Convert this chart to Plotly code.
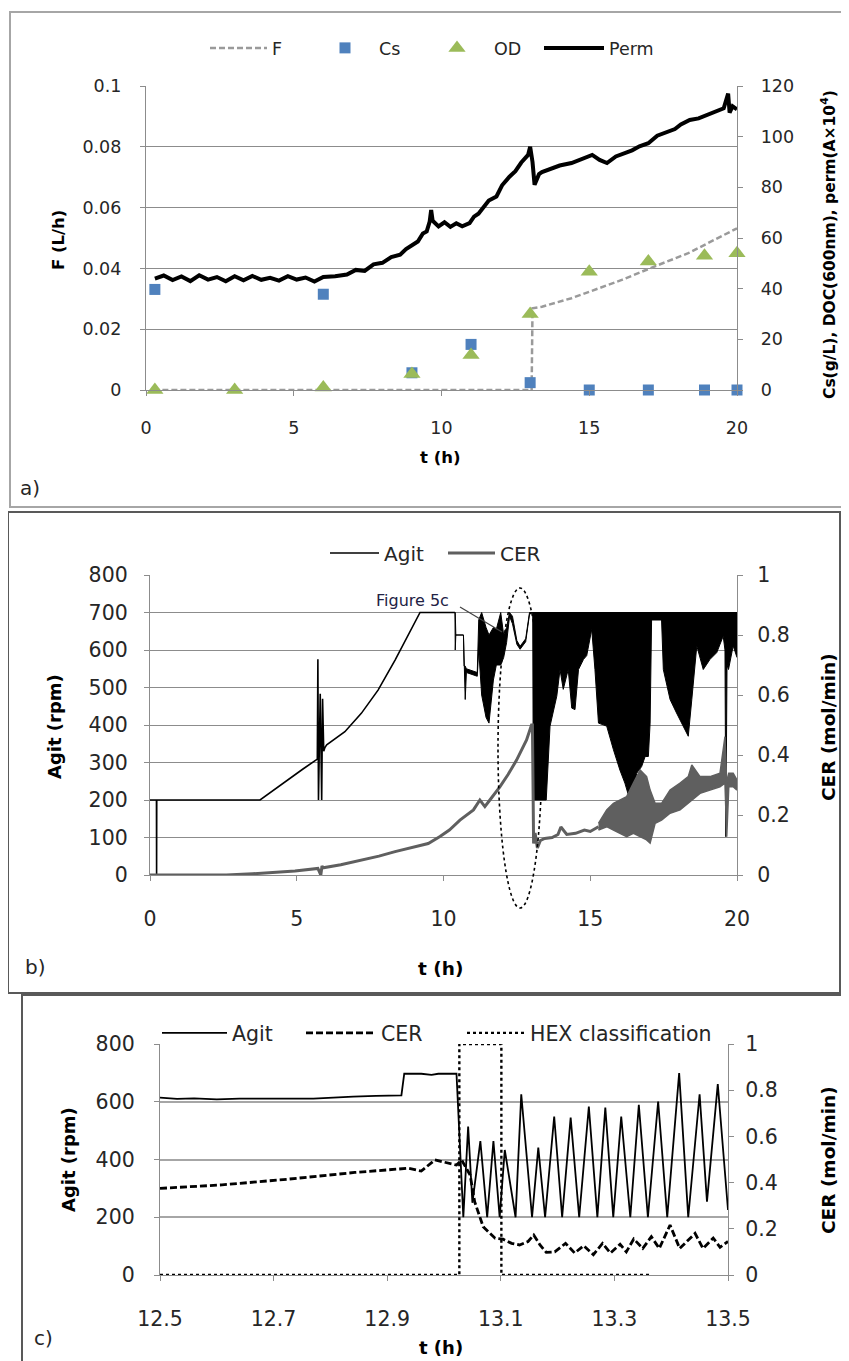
import plotly.graph_objects as go

# ---------------- panel a) feed, substrate, OD and permittivity ----------------
perm_t = [0.3, 0.6, 0.9, 1.2, 1.5, 1.8, 2.1, 2.4, 2.7, 3.0, 3.3, 3.6, 3.9, 4.2, 4.5, 4.8,
          5.1, 5.4, 5.7, 6.0, 6.4, 6.8, 7.1, 7.4, 7.7, 8.0, 8.3, 8.6, 8.8, 9.0, 9.2, 9.37,
          9.5, 9.6, 9.65, 9.7, 9.9, 10.1, 10.3, 10.5, 10.7, 10.95, 11.1, 11.25, 11.4, 11.6,
          11.86, 12.05, 12.3, 12.5, 12.7, 12.93, 13.0, 13.08, 13.15, 13.3, 13.4, 13.7, 14.0,
          14.4, 14.7, 15.1, 15.35, 15.6, 15.9, 16.2, 16.45, 16.7, 17.0, 17.3, 17.6, 17.9,
          18.1, 18.4, 18.7, 19.0, 19.3, 19.55, 19.7, 19.75, 19.85, 20.0]
perm_v = [44.0, 45.2, 43.4, 44.8, 43.0, 45.3, 43.6, 44.6, 42.9, 44.9, 43.3, 45.0, 43.5, 44.3,
          43.2, 44.9, 43.6, 44.4, 42.8, 44.6, 44.9, 45.6, 47.4, 47.0, 49.6, 50.2, 52.5, 53.4,
          55.6, 57.2, 58.6, 61.8, 62.6, 66.5, 71.0, 66.8, 64.6, 66.2, 64.4, 65.8, 64.6, 65.9,
          68.4, 69.6, 71.8, 74.8, 76.4, 80.8, 84.2, 86.4, 89.8, 92.8, 96.0, 90.0, 81.0, 85.2,
          86.0, 87.4, 88.6, 89.6, 91.0, 92.8, 90.8, 89.6, 92.2, 93.4, 94.6, 96.2, 97.4, 100.4,
          101.8, 103.0, 104.8, 106.6, 107.2, 108.6, 110.0, 111.2, 117.0, 109.5, 112.0, 110.8]

feed_t = [0.25, 13.05, 13.08, 13.4, 14.4, 15.0, 16.1, 17.2, 18.35, 20.0]
feed_v = [0.0, 0.0, 0.0269, 0.0274, 0.0302, 0.0323, 0.0362, 0.0406, 0.045, 0.0532]

cs_t = [0.3, 6.0, 9.0, 11.0, 13.0, 15.0, 17.0, 18.9, 20.0]
cs_v = [39.7, 37.8, 6.8, 18.0, 2.9, 0.0, 0.0, 0.0, 0.0]

od_t = [0.3, 3.0, 6.0, 9.0, 11.0, 13.0, 15.0, 17.0, 18.9, 20.0]
od_v = [0.0, 0.0, 1.0, 6.3, 13.8, 30.0, 46.7, 50.7, 53.0, 54.0]

a_time_ticks = [0, 5, 10, 15, 20]
a_feed_ticks = [0, 0.02, 0.04, 0.06, 0.08, 0.1]
a_feed_labels = ["0", "0.02", "0.04", "0.06", "0.08", "0.1"]
a_right_ticks = [0, 20, 40, 60, 80, 100, 120]

# ---------------- panel b) agitation and CER over the run ----------------
agit_t = [0.0, 0.22, 0.225, 0.23, 3.75, 4.2, 4.71, 5.2, 5.7, 5.72, 5.74, 5.8, 5.85, 5.88,
          5.92, 5.96, 6.02, 6.64, 7.2, 7.77, 8.35, 8.9, 9.2, 10.39]
agit_v = [200, 200, 0, 200, 200, 226, 253, 282, 309, 575, 200, 483, 200, 470, 330, 340,
          347, 382, 431, 493, 573, 658, 700, 700]

# oscillating part: upper / lower envelope of the agitation signal
agit_band_t = [10.39, 10.40, 10.42, 10.68, 10.70, 10.74, 10.78, 11.15, 11.2, 11.3, 11.45,
               11.55, 11.7, 11.8, 11.95, 12.05, 12.15, 12.25, 12.35, 12.5, 12.61, 12.8,
               12.93, 13.04, 13.06, 13.5, 13.63, 13.86, 13.97, 14.08, 14.25, 14.37, 14.48,
               14.6, 14.77, 14.88, 15.05, 15.16, 15.28, 15.56, 15.79, 16.01, 16.18, 16.3,
               16.47, 16.58, 16.75, 16.87, 16.98, 17.04, 17.09, 17.43, 17.49, 17.72, 17.94,
               18.17, 18.34, 18.46, 18.63, 18.85, 19.08, 19.31, 19.53, 19.59, 19.62, 19.66,
               19.71, 19.87, 20.0]
agit_band_hi = [700, 700, 640, 640, 557, 557, 550, 540, 680, 700, 660, 640, 660, 655, 700,
                640, 660, 700, 690, 625, 610, 630, 700,
                700, 700, 700, 700, 700, 700, 700, 700, 700, 700, 700, 700, 700, 700, 700,
                700, 700, 700, 700, 700, 700, 700, 700, 700, 700, 700, 700, 700, 700, 700,
                700, 700, 700, 700, 700, 700, 700, 700, 700, 700, 700, 700, 700, 700, 700, 700]
agit_band_lo = [700, 600, 640, 640, 557, 468, 540, 530, 600, 480, 420, 405, 520, 560, 560,
                580, 620, 690, 670, 615, 602, 622, 695,
                700, 200, 200, 397, 477, 548, 495, 548, 445, 441, 548, 575, 585, 655, 548,
                405, 397, 334, 280, 245, 213, 209, 271, 289, 316, 316, 405, 680, 680, 548,
                468, 432, 397, 370, 468, 611, 548, 575, 593, 637, 600, 102, 560, 548, 611, 580]

cer_t = [0.0, 2.6, 3.5, 4.2, 4.94, 5.72, 5.82, 5.86, 5.9, 6.5, 7.21, 7.8, 8.35, 8.9, 9.48,
         9.88, 10.2, 10.56, 11.02, 11.24, 11.41, 11.58, 11.92, 12.2, 12.49, 12.83, 13.0,
         13.03, 13.07, 13.12, 13.2, 13.3, 13.45, 13.7, 13.9, 14.0, 14.2, 14.5, 14.8, 15.0, 15.28]
cer_v = [0.0, 0.0, 0.004, 0.008, 0.013, 0.022, 0.0, 0.03, 0.024, 0.034, 0.05, 0.063, 0.078,
         0.092, 0.105, 0.128, 0.15, 0.183, 0.217, 0.25, 0.228, 0.25, 0.294, 0.335, 0.383,
         0.45, 0.5, 0.5, 0.105, 0.14, 0.09, 0.115, 0.122, 0.125, 0.135, 0.16, 0.135, 0.139,
         0.15, 0.145, 0.161]

cer_band_t = [15.28, 15.56, 15.79, 16.01, 16.24, 16.47, 16.7, 16.92, 17.04, 17.21, 17.43,
              17.72, 18.06, 18.34, 18.46, 18.74, 19.08, 19.42, 19.59, 19.65, 19.72, 19.87, 20.0]
cer_band_hi = [0.172, 0.217, 0.239, 0.25, 0.261, 0.306, 0.35, 0.328, 0.283, 0.239, 0.239,
               0.283, 0.306, 0.328, 0.367, 0.328, 0.328, 0.339, 0.461, 0.306, 0.339, 0.339, 0.317]
cer_band_lo = [0.15, 0.161, 0.15, 0.139, 0.128, 0.139, 0.128, 0.117, 0.106, 0.172, 0.183,
               0.206, 0.217, 0.239, 0.25, 0.272, 0.283, 0.294, 0.306, 0.128, 0.294, 0.294, 0.283]

b_time_ticks = [0, 5, 10, 15, 20]
b_agit_ticks = [0, 100, 200, 300, 400, 500, 600, 700, 800]
cer_ticks = [0, 0.2, 0.4, 0.6, 0.8, 1]
cer_labels = ["0", "0.2", "0.4", "0.6", "0.8", "1"]

# ---------------- panel c) zoom 12.5 - 13.5 h ----------------
agit_c_t = [12.5, 12.53, 12.56, 12.6, 12.64, 12.685, 12.72, 12.77, 12.8, 12.84, 12.88, 12.925,
            12.93, 12.96, 12.978, 12.99, 13.022, 13.034, 13.0425, 13.05, 13.064, 13.076,
            13.087, 13.098, 13.107, 13.126, 13.136, 13.155, 13.166, 13.178, 13.194, 13.208,
            13.223, 13.238, 13.255, 13.27, 13.284, 13.298, 13.312, 13.328, 13.343, 13.359,
            13.377, 13.393, 13.414, 13.43, 13.45, 13.463, 13.482, 13.5]
agit_c_v = [614, 610, 612, 608, 611, 610, 611, 611, 615, 618, 620, 622, 697, 697, 693, 697,
            697, 200, 514, 250, 464, 200, 464, 200, 433, 200, 626, 200, 441, 200, 549, 200,
            545, 200, 583, 200, 580, 200, 549, 200, 589, 200, 601, 200, 699, 200, 626, 254,
            661, 225]

cer_c_t = [12.5, 12.609, 12.726, 12.843, 12.937, 12.96, 12.984, 13.0, 13.022, 13.031, 13.046,
           13.054, 13.06, 13.069, 13.078, 13.09, 13.104, 13.119, 13.133, 13.148, 13.158,
           13.169, 13.18, 13.195, 13.214, 13.23, 13.246, 13.263, 13.279, 13.293, 13.31,
           13.321, 13.334, 13.35, 13.365, 13.379, 13.398, 13.415, 13.442, 13.456, 13.474,
           13.486, 13.5]
cer_c_v = [0.375, 0.39, 0.415, 0.444, 0.462, 0.45, 0.498, 0.488, 0.476, 0.498, 0.433, 0.317,
           0.274, 0.209, 0.187, 0.159, 0.155, 0.137, 0.13, 0.145, 0.173, 0.13, 0.098, 0.1,
           0.137, 0.095, 0.127, 0.088, 0.137, 0.095, 0.133, 0.1, 0.156, 0.115, 0.166, 0.115,
           0.216, 0.115, 0.18, 0.115, 0.16, 0.12, 0.145]

hex_t = [12.5, 13.027, 13.027, 13.101, 13.101, 13.362]
hex_v = [0, 0, 1, 1, 0, 0]

c_time_ticks = [12.5, 12.7, 12.9, 13.1, 13.3, 13.5]
c_time_labels = ["12.5", "12.7", "12.9", "13.1", "13.3", "13.5"]
c_agit_ticks = [0, 200, 400, 600, 800]

# ---------------- page geometry (pixels of the 849x1361 page) ----------------
OX, OY = 8, 8
FW, FH = 849 - OX, 1361 - OY
FONT = "DejaVu Sans"
TICK_COLOR = "#262626"
AXIS_GRAY = "#8c8c8c"


def px(x):
    return (x - OX) / FW


def py(y):
    return 1 - (y - OY) / FH


def axis_style(size, **kw):
    d = dict(showline=True, linecolor=AXIS_GRAY, linewidth=1.3, ticks="outside", ticklen=5,
             tickcolor=AXIS_GRAY, tickwidth=1.3, showgrid=False, zeroline=False,
             automargin=False, tickfont=dict(family=FONT, size=size, color=TICK_COLOR))
    d.update(kw)
    return d


def legend_at(x, y, size, symbol_width):
    # one legend box per entry, so each entry sits where the reference has it
    return dict(orientation="h", xanchor="left", yanchor="middle", x=px(x), y=py(y),
                bgcolor="rgba(0,0,0,0)", borderwidth=0, itemwidth=symbol_width,
                font=dict(family=FONT, size=size, color=TICK_COLOR))


fig = go.Figure()

# panel a
fig.add_trace(go.Scatter(x=feed_t, y=feed_v, name="F", mode="lines", xaxis="x", yaxis="y",
                         line=dict(color="#9a9a9a", width=2.5, dash="6px,3px"), legend="legend"))
fig.add_trace(go.Scatter(x=perm_t, y=perm_v, name="Perm", mode="lines", xaxis="x", yaxis="y2",
                         line=dict(color="black", width=4), legend="legend4"))
fig.add_trace(go.Scatter(x=cs_t, y=cs_v, name="Cs", mode="markers", xaxis="x", yaxis="y2",
                         marker=dict(symbol="square", size=11, color="#4f81bd"),
                         cliponaxis=False, legend="legend2"))
fig.add_trace(go.Scatter(x=od_t, y=od_v, name="OD", mode="markers", xaxis="x", yaxis="y2",
                         marker=dict(symbol="triangle-up", size=15, color="#9bbb59"),
                         cliponaxis=False, legend="legend3"))

# panel b
fig.add_trace(go.Scatter(x=agit_t, y=agit_v, name="Agit", mode="lines", xaxis="x2", yaxis="y3",
                         line=dict(color="black", width=1.6), legend="legend5"))
fig.add_trace(go.Scatter(x=agit_band_t, y=agit_band_lo, mode="lines", xaxis="x2", yaxis="y3",
                         line=dict(color="black", width=1), showlegend=False))
fig.add_trace(go.Scatter(x=agit_band_t, y=agit_band_hi, mode="lines", xaxis="x2", yaxis="y3",
                         line=dict(color="black", width=1), fill="tonexty", fillcolor="black",
                         showlegend=False))
fig.add_trace(go.Scatter(x=cer_t, y=cer_v, name="CER", mode="lines", xaxis="x2", yaxis="y4",
                         line=dict(color="#5f5f5f", width=3), legend="legend6"))
fig.add_trace(go.Scatter(x=cer_band_t, y=cer_band_lo, mode="lines", xaxis="x2", yaxis="y4",
                         line=dict(color="#5f5f5f", width=1.5), showlegend=False))
fig.add_trace(go.Scatter(x=cer_band_t, y=cer_band_hi, mode="lines", xaxis="x2", yaxis="y4",
                         line=dict(color="#5f5f5f", width=1.5), fill="tonexty",
                         fillcolor="#5f5f5f", showlegend=False))

# panel c
fig.add_trace(go.Scatter(x=agit_c_t, y=agit_c_v, name="Agit", mode="lines", xaxis="x3",
                         yaxis="y5", line=dict(color="black", width=1.8), legend="legend7"))
fig.add_trace(go.Scatter(x=cer_c_t, y=cer_c_v, name="CER", mode="lines", xaxis="x3", yaxis="y6",
                         line=dict(color="black", width=2.8, dash="7px,3px"), legend="legend8"))
fig.add_trace(go.Scatter(x=hex_t, y=hex_v, name="HEX classification", mode="lines", xaxis="x3",
                         yaxis="y6", line=dict(color="black", width=2.4, dash="dot"),
                         legend="legend9"))

fig.update_layout(
    width=FW, height=FH, autosize=False,
    margin=dict(l=0, r=0, t=0, b=0, autoexpand=False),
    paper_bgcolor="white", plot_bgcolor="white",
    font=dict(family=FONT, color=TICK_COLOR),
    # panel a axes
    xaxis=axis_style(17.5, domain=[px(146), px(737)], range=[0, 20], tickvals=a_time_ticks,
                     anchor="y", ticklabelstandoff=17),
    yaxis=axis_style(17.5, domain=[py(390), py(86)], range=[0, 0.1], tickvals=a_feed_ticks,
                     ticktext=a_feed_labels, anchor="x", showgrid=True, gridcolor=AXIS_GRAY,
                     gridwidth=1.3, ticklabelstandoff=15),
    yaxis2=axis_style(17.5, overlaying="y", side="right", anchor="x", range=[0, 120],
                      tickvals=a_right_ticks, ticklabelstandoff=14),
    # panel b axes
    xaxis2=axis_style(20.5, domain=[px(150), px(737)], range=[0, 20], tickvals=b_time_ticks,
                      anchor="y3", ticklabelstandoff=20),
    yaxis3=axis_style(20.5, domain=[py(875), py(575)], range=[0, 800], tickvals=b_agit_ticks,
                      anchor="x2", showgrid=True, gridcolor=AXIS_GRAY, gridwidth=1.3,
                      ticklabelstandoff=12),
    yaxis4=axis_style(20.5, overlaying="y3", side="right", anchor="x2", range=[0, 1],
                      tickvals=cer_ticks, ticktext=cer_labels, ticklabelstandoff=10),
    # panel c axes
    xaxis3=axis_style(20.5, domain=[px(160), px(728)], range=[12.5, 13.5],
                      tickvals=c_time_ticks, ticktext=c_time_labels, anchor="y5",
                      ticklabelstandoff=20),
    yaxis5=axis_style(20.5, domain=[py(1275), py(1044)], range=[0, 800], tickvals=c_agit_ticks,
                      anchor="x3", showgrid=True, gridcolor="#a6a6a6", gridwidth=2,
                      ticklabelstandoff=15),
    yaxis6=axis_style(20.5, overlaying="y5", side="right", anchor="x3", range=[0, 1],
                      tickvals=cer_ticks, ticktext=cer_labels, ticklabelstandoff=7),
    legend=legend_at(205, 48, 17.5, 57),
    legend2=legend_at(311, 48, 17.5, 58),
    legend3=legend_at(420, 48, 17.5, 64),
    legend4=legend_at(539, 48, 17.5, 60),
    legend5=legend_at(325, 553, 20, 49),
    legend6=legend_at(443, 553, 20, 47),
    legend7=legend_at(157, 1033, 20.5, 65),
    legend8=legend_at(301, 1033, 20.5, 70),
    legend9=legend_at(462, 1033, 20.5, 58),
)

# panel frames, ellipse and pointer
frames = [(10, 12, 860, 507, "#a6a6a6"), (8, 512, 840, 993, "#595959"),
          (22, 995, 842, 1370, "#595959")]
for x0, y0, x1, y1, col in frames:
    fig.add_shape(type="rect", xref="paper", yref="paper", x0=px(x0), x1=px(x1),
                  y0=py(y1), y1=py(y0), line=dict(color=col, width=2), layer="below")
fig.add_shape(type="circle", xref="paper", yref="paper", x0=px(498), x1=px(542),
              y0=py(908), y1=py(588), line=dict(color="black", width=1.6, dash="dot"))
fig.add_shape(type="line", xref="paper", yref="paper", x0=px(460), y0=py(607),
              x1=px(502), y1=py(632), line=dict(color="#404040", width=1.2))


def label(text, x, y, size, angle=0, bold=False, color="black"):
    fig.add_annotation(text=f"<b>{text}</b>" if bold else text, xref="paper", yref="paper",
                       x=px(x), y=py(y), xanchor="center", yanchor="middle", showarrow=False,
                       textangle=angle, font=dict(family=FONT, size=size, color=color))


label("F (L/h)", 58, 240, 16.5, -90, True)
label("Cs(g/L), DOC(600nm), perm(A×10<sup>4</sup>)", 828, 245, 15.5, -90, True)
label("t (h)", 440, 458, 16.5, 0, True)
label("a)", 30, 488, 20, 0, False, TICK_COLOR)

label("Agit (rpm)", 54, 727, 18, -90, True)
label("CER (mol/min)", 828, 727, 18.5, -90, True)
label("t (h)", 441, 968, 18.5, 0, True)
label("b)", 35, 967, 20, 0, False, TICK_COLOR)
label("Figure 5c", 412, 601, 16, 0, False, "#222244")

label("Agit (rpm)", 68, 1160, 18, -90, True)
label("CER (mol/min)", 828, 1160, 18.5, -90, True)
label("t (h)", 441, 1347, 18, 0, True)
label("c)", 43, 1338, 20, 0, False, TICK_COLOR)

fig.write_html("out.html")
